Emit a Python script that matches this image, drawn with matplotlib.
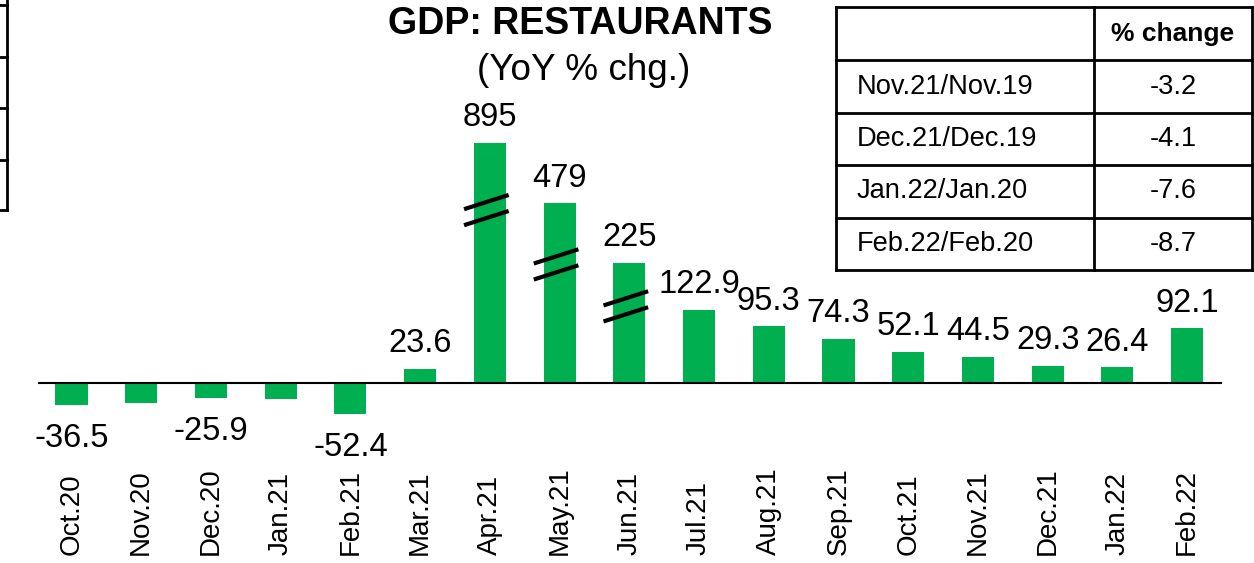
import matplotlib
matplotlib.use("Agg")
import matplotlib.pyplot as plt
from matplotlib.lines import Line2D
import matplotlib.transforms as mtransforms

plt.rcParams['font.family'] = ['Liberation Sans', 'DejaVu Sans']

# ---- data ----
months = ["Oct.20", "Nov.20", "Dec.20", "Jan.21", "Feb.21", "Mar.21", "Apr.21",
          "May.21", "Jun.21", "Jul.21", "Aug.21", "Sep.21", "Oct.21", "Nov.21",
          "Dec.21", "Jan.22", "Feb.22"]
values = [-36.5, -33.0, -25.9, -26.5, -52.4, 23.6, 895, 479, 225, 122.9, 95.3,
          74.3, 52.1, 44.5, 29.3, 26.4, 92.1]
value_labels = ["-36.5", "", "-25.9", "", "-52.4", "23.6", "895", "479", "225",
                "122.9", "95.3", "74.3", "52.1", "44.5", "29.3", "26.4", "92.1"]
# truncated (axis-break) display heights for the very tall bars
broken_display = {"Apr.21": 405, "May.21": 303, "Jun.21": 202}
# where the break marks sit, as a fraction of the displayed height
break_frac = {"Apr.21": 0.72, "May.21": 0.66, "Jun.21": 0.64}

table_rows = ["Nov.21/Nov.19", "Dec.21/Dec.19", "Jan.22/Jan.20", "Feb.22/Feb.20"]
table_vals = ["-3.2", "-4.1", "-7.6", "-8.7"]
table_header = "% change"

title = "GDP: RESTAURANTS"
subtitle = "(YoY % chg.)"

GREEN = "#00B050"
W, H = 1254, 563

fig = plt.figure(figsize=(W / 100, H / 100), dpi=100)

def fx(px):
    return px / W

def fy(py):
    return 1 - py / H

# axes covering full height; zero at y=383 px
scale = 0.593  # px per unit
ax = fig.add_axes([fx(38), 0, fx(1222) - fx(38), 1])
ax.set_ylim(-(H - 383) / scale, 383 / scale)
ax.set_xlim(-0.48, len(months) - 0.5)
for s in ax.spines.values():
    s.set_visible(False)
ax.set_xticks([])
ax.set_yticks([])
ax.patch.set_alpha(0)

xs = list(range(len(months)))
heights = [broken_display.get(m, v) for m, v in zip(months, values)]
ax.bar(xs, heights, width=0.46, color=GREEN, zorder=2)
ax.axhline(0, color="black", lw=1.5, zorder=3)

# value labels
for x, h, lab in zip(xs, heights, value_labels):
    if not lab:
        continue
    if h >= 0:
        ax.annotate(lab, (x, h), xytext=(0, 7), textcoords="offset points",
                    ha="center", va="bottom", fontsize=23.5)
    else:
        ax.annotate(lab, (x, h), xytext=(0, -13), textcoords="offset points",
                    ha="center", va="top", fontsize=23.5)

# break marks
for m, h in broken_display.items():
    i = months.index(m)
    yb = h * break_frac[m]
    for off in (13.5, -13.5):
        y0 = yb + off - 12
        y1 = yb + off + 12
        ax.plot([i - 0.05 - 0.32, i - 0.05 + 0.32], [y0, y1], color="black",
                lw=3, solid_capstyle="butt", zorder=4)

# month labels (rotated, bottom aligned)
trans = mtransforms.blended_transform_factory(ax.transData, fig.transFigure)
for x, m in zip(xs, months):
    ax.text(x, fy(555), m, rotation=90, ha="center", va="bottom",
            fontsize=20, transform=trans)

# title
fig.text(fx(580), fy(24), title, ha="center", va="center", fontsize=27,
         fontweight="bold")
fig.text(fx(584), fy(70), subtitle, ha="center", va="center", fontsize=26.6)

# table on the right
tx0, tx1, tcol = 836, 1252, 1094
ty = [7, 60, 113, 165, 218, 270]
lw = 2
fig.add_artist(Line2D([fx(tx0), fx(tx0)], [fy(ty[0]), fy(ty[-1])], color="black", lw=lw))
fig.add_artist(Line2D([fx(tx1), fx(tx1)], [fy(ty[0]), fy(ty[-1])], color="black", lw=lw))
fig.add_artist(Line2D([fx(tcol), fx(tcol)], [fy(ty[0]), fy(ty[-1])], color="black", lw=lw))
for y in ty:
    fig.add_artist(Line2D([fx(tx0), fx(tx1)], [fy(y), fy(y)], color="black", lw=lw))
fig.text(fx((tcol + tx1) / 2), fy((ty[0] + ty[1]) / 2), table_header,
         ha="center", va="center", fontsize=19, fontweight="bold")
for k, (r, v) in enumerate(zip(table_rows, table_vals)):
    yc = fy((ty[k + 1] + ty[k + 2]) / 2)
    fig.text(fx(857), yc, r, ha="left", va="center", fontsize=19.6)
    fig.text(fx((tcol + tx1) / 2), yc, v, ha="center", va="center", fontsize=19.6)

# fragment of a table cut off at the left edge
fig.add_artist(Line2D([fx(7), fx(7)], [fy(0), fy(210)], color="black", lw=2))
for y in [5, 57, 108, 160, 210]:
    fig.add_artist(Line2D([0, fx(7)], [fy(y), fy(y)], color="black", lw=2))

fig.savefig("out.png", dpi=100)
